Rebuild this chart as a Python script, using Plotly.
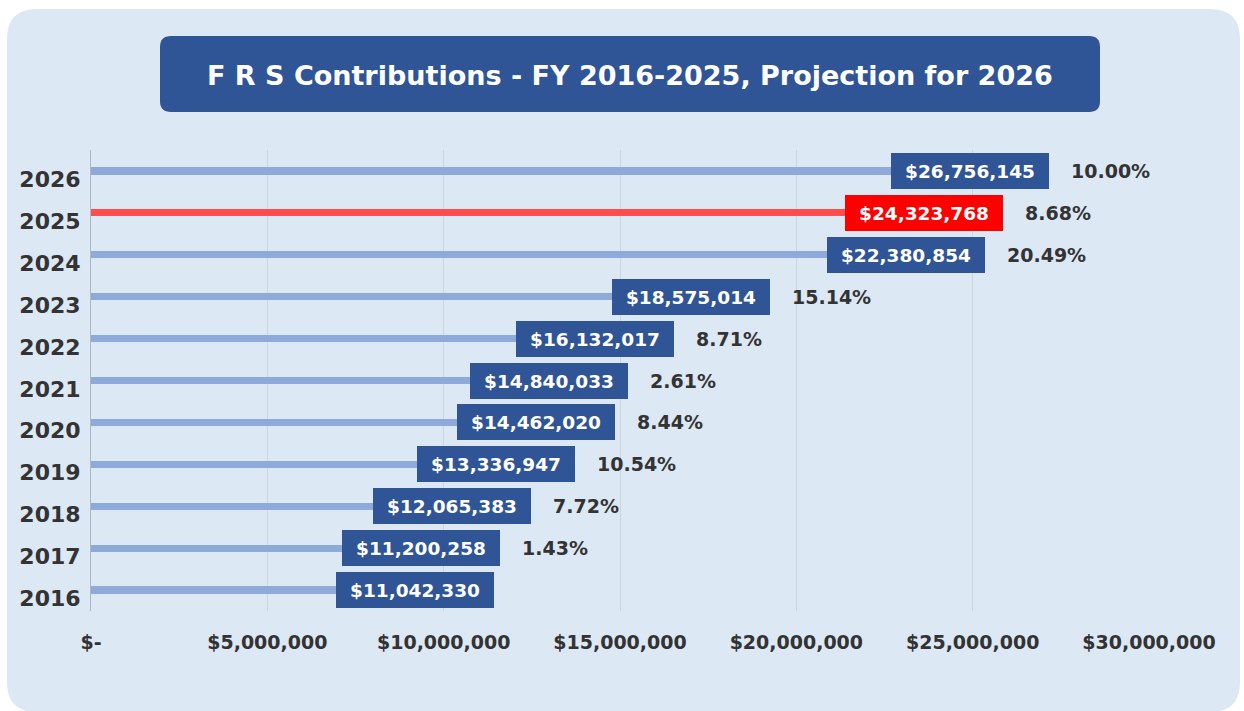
import plotly.graph_objects as go

# ---- data -------------------------------------------------------------
years = [2016, 2017, 2018, 2019, 2020, 2021, 2022, 2023, 2024, 2025, 2026]
contributions = [11042330, 11200258, 12065383, 13336947, 14462020, 14840033,
                 16132017, 18575014, 22380854, 24323768, 26756145]
growth_labels = ["", "1.43%", "7.72%", "10.54%", "8.44%", "2.61%",
                 "8.71%", "15.14%", "20.49%", "8.68%", "10.00%"]
x_tick_values = [0, 5000000, 10000000, 15000000, 20000000, 25000000, 30000000]
x_tick_labels = ["$-", "$5,000,000", "$10,000,000", "$15,000,000",
                 "$20,000,000", "$25,000,000", "$30,000,000"]
highlight_year = 2025
title_text = "F R S Contributions - FY 2016-2025, Projection for 2026"

# ---- styling ----------------------------------------------------------
W, H = 1244, 711
ML, MR, MT, MB = 91, 95, 150, 100
FONT = "DejaVu Sans"
PANEL = "#dde8f5"
NAVY = "#2f5597"
LINE_BLUE = "#8eaadb"
LINE_RED = "#ff4d4d"
BOX_RED = "#ff0000"
TEXT = "#333333"

# hand-placed label offsets (px) for a few crowded rows
label_nudge = {2023: 10, 2024: 91, 2025: 40}

pos = list(range(len(years)))
line_colors = [LINE_RED if y == highlight_year else LINE_BLUE for y in years]
box_colors = [BOX_RED if y == highlight_year else NAVY for y in years]

fig = go.Figure()
fig.add_trace(go.Bar(
    x=contributions, y=pos, orientation="h", width=0.17,
    marker=dict(color=line_colors, line=dict(width=0)),
    hoverinfo="skip", showlegend=False,
))

# ---- pixel -> paper helpers for decorative shapes ----------------------
pw, ph = W - ML - MR, H - MT - MB


def px(x):
    return (x - ML) / pw


def py(y):
    return (H - MB - y) / ph


def rounded_rect(x0, y0, x1, y1, r):
    """SVG path (paper coords) of a rectangle with rounded corners, given in pixels."""
    pts = [
        f"M {px(x0 + r)} {py(y0)}",
        f"L {px(x1 - r)} {py(y0)}",
        f"Q {px(x1)} {py(y0)} {px(x1)} {py(y0 + r)}",
        f"L {px(x1)} {py(y1 - r)}",
        f"Q {px(x1)} {py(y1)} {px(x1 - r)} {py(y1)}",
        f"L {px(x0 + r)} {py(y1)}",
        f"Q {px(x0)} {py(y1)} {px(x0)} {py(y1 - r)}",
        f"L {px(x0)} {py(y0 + r)}",
        f"Q {px(x0)} {py(y0)} {px(x0 + r)} {py(y0)}",
        "Z",
    ]
    return " ".join(pts)


shapes = [
    dict(type="path", xref="paper", yref="paper", layer="below",
         path=rounded_rect(7, 9, 1240, 712, 30),
         fillcolor=PANEL, line=dict(width=0)),
    dict(type="path", xref="paper", yref="paper", layer="below",
         path=rounded_rect(160, 36, 1100, 112, 11),
         fillcolor=NAVY, line=dict(width=0)),
]

annotations = [
    dict(text=f"<b>{title_text}</b>", xref="paper", yref="paper",
         x=px(630), y=py(75), xanchor="center", yanchor="middle",
         showarrow=False, font=dict(family=FONT, size=27, color="white")),
]

BOX_W, BOX_H, BOX_PAST = 158, 36, 14
for y, v, p, g, c in zip(years, contributions, pos, growth_labels, box_colors):
    shift = BOX_PAST + label_nudge.get(y, 0)
    annotations.append(dict(
        text=f"<b>${v:,}</b>", x=v, y=p, xref="x", yref="y",
        xanchor="right", yanchor="middle", xshift=shift,
        width=BOX_W, height=BOX_H, align="center", valign="middle",
        bgcolor=c, borderpad=0, borderwidth=0, showarrow=False,
        font=dict(family=FONT, size=18.5, color="white"),
    ))
    if g:
        annotations.append(dict(
            text=f"<b>{g}</b>", x=v, y=p, xref="x", yref="y",
            xanchor="left", yanchor="middle", xshift=shift + 20,
            showarrow=False, font=dict(family=FONT, size=19, color=TEXT),
        ))

fig.update_layout(
    width=W, height=H,
    margin=dict(l=ML, r=MR, t=MT, b=MB),
    paper_bgcolor="white", plot_bgcolor="rgba(0,0,0,0)",
    shapes=shapes, annotations=annotations,
    bargap=0, showlegend=False,
)
fig.update_xaxes(
    range=[0, 30000000], tickvals=x_tick_values,
    ticktext=[f"<b>{t}</b>" for t in x_tick_labels],
    showgrid=True, gridcolor="#cdd4dc", gridwidth=1, zeroline=False,
    showline=False, ticks="", ticklabelstandoff=18,
    tickfont=dict(family=FONT, size=19, color=TEXT), fixedrange=True,
)
fig.update_yaxes(
    range=[-0.5, len(years) - 0.5],
    tickvals=[p - 0.2 for p in pos], ticktext=[f"<b>{y}</b>" for y in years],
    showgrid=False, zeroline=False, showline=True, linecolor="#aeb8c3",
    linewidth=1, ticks="", ticklabelstandoff=5,
    tickfont=dict(family=FONT, size=22, color=TEXT), fixedrange=True,
)

fig.write_html("out.html")
